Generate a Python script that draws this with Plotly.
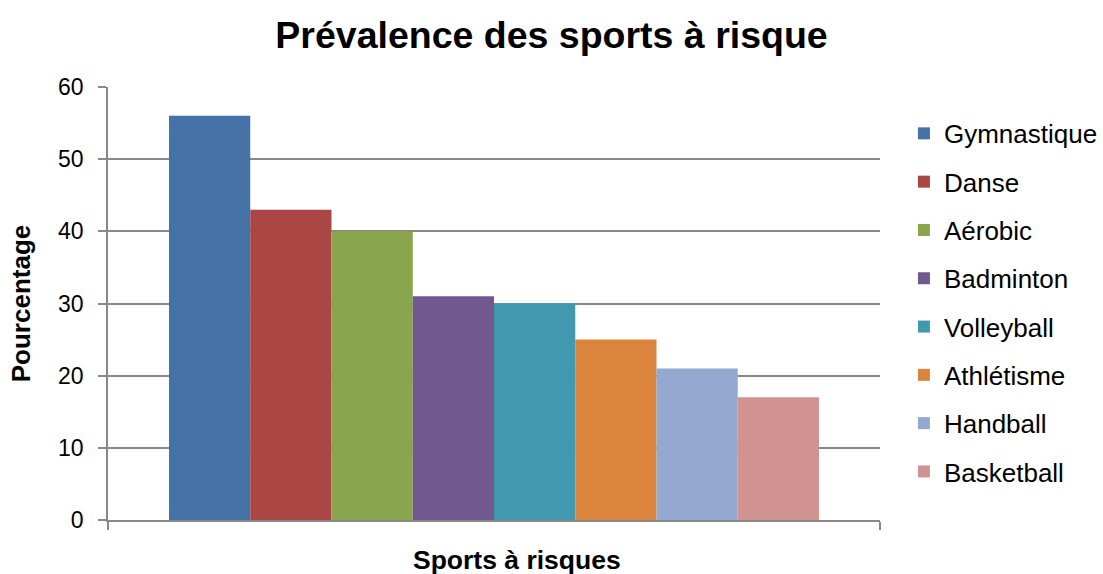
import plotly.graph_objects as go

sports = ["Gymnastique", "Danse", "Aérobic", "Badminton", "Volleyball",
          "Athlétisme", "Handball", "Basketball"]
values = [56, 43, 40, 31, 30, 25, 21, 17]
colors = ["#4572A7", "#AA4643", "#89A54E", "#71588F", "#4198AF",
          "#DB843D", "#93A9CF", "#D19392"]
y_ticks = [0, 10, 20, 30, 40, 50, 60]

FONT = "Arial, Liberation Sans, sans-serif"
GRID = "#888888"

fig = go.Figure()
for i, (name, val, col) in enumerate(zip(sports, values, colors)):
    fig.add_trace(go.Bar(
        x=[0], y=[val], name=name, marker_color=col,
        marker_line_width=0, legendgroup=f"g{i}",
    ))

fig.update_layout(
    width=1103, height=574,
    margin=dict(l=108, r=223, t=87, b=54, autoexpand=False),
    paper_bgcolor="white", plot_bgcolor="white",
    barmode="group", bargap=0.158, bargroupgap=0,
    font=dict(family=FONT, color="black"),
    title=dict(text="<b>Prévalence des sports à risque</b>",
               x=0.5, xref="container", xanchor="center",
               y=1 - 35 / 574, yref="container", yanchor="middle",
               font=dict(size=37.5, family=FONT, color="black")),
    legend=dict(x=1.031, xanchor="left", y=0.947, yanchor="top",
                font=dict(size=26, family=FONT, color="black"),
                tracegroupgap=11.5, itemwidth=30,
                bgcolor="rgba(0,0,0,0)"),
    showlegend=True,
    annotations=[dict(
        text="<b>Sports à risques</b>", showarrow=False,
        xref="paper", yref="paper", x=0.53, y=-40 / 433,
        xanchor="center", yanchor="middle",
        font=dict(size=26.5, family=FONT, color="black"),
    )],
)

fig.update_yaxes(
    range=[0, 60], tickvals=y_ticks, ticktext=[str(t) for t in y_ticks],
    showgrid=True, gridcolor=GRID, gridwidth=1.5,
    showline=True, linecolor=GRID, linewidth=1.5,
    ticks="outside", ticklen=8, tickcolor=GRID, tickwidth=1.5,
    ticklabelstandoff=10, automargin=False,
    tickfont=dict(size=23, family=FONT, color="black"),
    zeroline=False,
    title=dict(text="<b>Pourcentage</b>", standoff=20,
               font=dict(size=26, family=FONT, color="black")),
)
fig.update_xaxes(
    range=[-0.5, 0.5], tickvals=[-0.5, 0.5], showticklabels=False,
    showgrid=False, zeroline=False, automargin=False,
    showline=True, linecolor=GRID, linewidth=1.5,
    ticks="outside", ticklen=8, tickcolor=GRID, tickwidth=1.5,
)

fig.write_html(
    "out.html",
    config={"displayModeBar": False},
    post_script="document.body.style.margin='0';document.body.style.padding='0';",
)
